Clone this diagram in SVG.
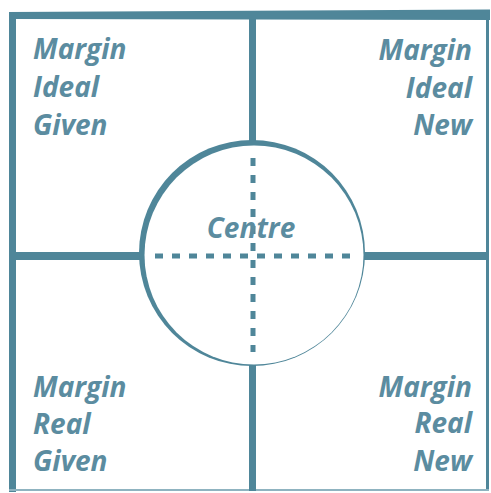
<svg xmlns="http://www.w3.org/2000/svg" width="491" height="493" viewBox="0 0 491 493">
<style>
.ln{fill:#4f8699}
.t{font-family:"Open Sans",Lato,sans-serif;font-weight:bold;font-style:italic;font-size:28px;fill:#5b8ca0}
.r{text-anchor:end}
.dash{stroke:#4f8699;stroke-width:5;stroke-dasharray:8 9;fill:none}
</style>
<rect width="491" height="493" fill="#ffffff"/>
<g id="frame">
<polygon class="ln" points="9,12 490,9.5 490,20 16,19"/>
<rect class="ln" x="9" y="12" width="7" height="480"/>
<rect class="ln" x="486" y="12" width="3" height="479"/>
<rect x="9" y="489" width="480" height="2" fill="#8fb3c0"/>
<rect class="ln" x="249" y="15" width="7" height="476"/>
<rect class="ln" x="12" y="252" width="476" height="8"/>
</g>
<g id="centre">
<circle cx="252" cy="253" r="113" fill="#4f8699"/>
<circle cx="254" cy="255" r="109.5" fill="#ffffff"/>
<line class="dash" x1="155" y1="256" x2="350" y2="256"/>
<line class="dash" x1="253" y1="158" x2="253" y2="352"/>
<text class="t" x="251" y="238" text-anchor="middle" font-size="25">Centre</text>
</g>
<g id="ideal-given">
<text class="t" x="33" y="59">Margin</text>
<text class="t" x="33" y="97">Ideal</text>
<text class="t" x="33" y="135">Given</text>
</g>
<g id="ideal-new">
<text class="t r" x="472" y="60">Margin</text>
<text class="t r" x="472" y="98">Ideal</text>
<text class="t r" x="472" y="135">New</text>
</g>
<g id="real-given">
<text class="t" x="33" y="397">Margin</text>
<text class="t" x="33" y="434">Real</text>
<text class="t" x="33" y="471">Given</text>
</g>
<g id="real-new">
<text class="t r" x="472" y="397">Margin</text>
<text class="t r" x="472" y="433">Real</text>
<text class="t r" x="472" y="471">New</text>
</g>
</svg>
